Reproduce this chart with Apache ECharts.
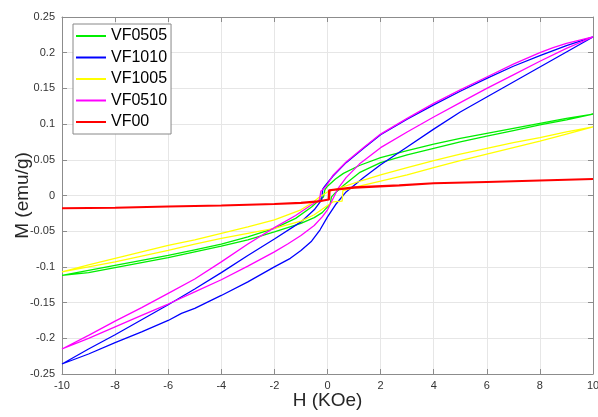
<!DOCTYPE html>
<html>
<head>
<meta charset="utf-8">
<script src="https://cdn.jsdelivr.net/npm/echarts@6/dist/echarts.min.js"></script>
<style>
html,body{margin:0;padding:0;background:#fff;}
#chart{width:598px;height:417px;}
</style>
</head>
<body>
<div id="chart"></div>
<script>
// Tick settings
const xTicks = [-10, -8, -6, -4, -2, 0, 2, 4, 6, 8, 10];
const yTicks = [-0.25, -0.2, -0.15, -0.1, -0.05, 0, 0.05, 0.1, 0.15, 0.2, 0.25];

const seriesNames = ['VF0505', 'VF1010', 'VF1005', 'VF0510', 'VF00'];
const seriesColors = ['#00ee00', '#0000ff', '#ffff00', '#ff00ff', '#ff0000'];

// [H (KOe), M (emu/g)] — descending branch (from +10 to -10)
const vf0505Desc = [[10,0.114],[9,0.108],[8,0.101],[7,0.094],[6,0.087],[5,0.080],[4,0.072],[3,0.063],[2,0.053],[1.2,0.042],[0.6,0.031],[0.3,0.023],[0,0.013],[-0.1,0.008],[-0.15,-0.002],[-0.3,-0.006],[-0.6,-0.016],[-1.2,-0.032],[-2,-0.046],[-3,-0.058],[-4,-0.068],[-5,-0.076],[-6,-0.084],[-7,-0.091],[-8,-0.098],[-9,-0.105],[-10,-0.112]];
// ascending branch (from -10 to +10)
const vf0505Asc = [[-10,-0.112],[-9,-0.108],[-8,-0.101],[-7,-0.094],[-6,-0.087],[-5,-0.079],[-4,-0.071],[-3,-0.062],[-2,-0.051],[-1.5,-0.045],[-1,-0.039],[-0.5,-0.031],[-0.2,-0.024],[0,-0.016],[0.1,-0.012],[0.15,-0.002],[0.3,0.004],[0.6,0.014],[1.2,0.032],[2,0.046],[3,0.057],[4,0.066],[5,0.075],[6,0.083],[7,0.091],[8,0.099],[9,0.106],[10,0.114]];

const vf1010Desc = [[10,0.222],[9,0.210],[8,0.196],[7,0.181],[6,0.164],[5,0.146],[4,0.127],[3,0.107],[2,0.085],[1.35,0.066],[0.7,0.046],[0.2,0.027],[-0.1,0.013],[-0.18,0.009],[-0.22,-0.006],[-0.5,-0.020],[-1,-0.037],[-2,-0.061],[-3,-0.084],[-4,-0.108],[-5,-0.131],[-6,-0.153],[-7,-0.174],[-8,-0.195],[-9,-0.215],[-10,-0.236]];
const vf1010Asc = [[-10,-0.236],[-9,-0.222],[-8,-0.206],[-7,-0.191],[-6,-0.175],[-5.5,-0.165],[-5,-0.158],[-4,-0.140],[-3,-0.121],[-2,-0.100],[-1.4,-0.088],[-1,-0.077],[-0.6,-0.064],[-0.28,-0.048],[0,-0.030],[0.3,-0.013],[0.7,0.005],[1.35,0.025],[2,0.043],[3,0.068],[4,0.093],[5,0.117],[6,0.138],[7,0.159],[8,0.180],[9,0.201],[10,0.222]];

const vf1005Desc = [[10,0.096],[9,0.089],[8,0.081],[7,0.074],[6,0.066],[5,0.058],[4,0.049],[3,0.039],[2,0.029],[1.3,0.021],[0.5,0.011],[0,0.005],[-0.3,-0.002],[-0.5,-0.008],[-0.7,-0.013],[-1,-0.020],[-2,-0.034],[-3,-0.044],[-4,-0.053],[-5,-0.062],[-6,-0.070],[-7,-0.079],[-8,-0.088],[-9,-0.097],[-10,-0.107]];
const vf1005Asc = [[-10,-0.107],[-9,-0.100],[-8,-0.093],[-7,-0.085],[-6,-0.077],[-5,-0.068],[-4,-0.060],[-3,-0.053],[-2,-0.046],[-1,-0.036],[-0.5,-0.027],[0,-0.014],[0.2,-0.009],[0.55,-0.008],[0.58,0.007],[1.2,0.013],[2,0.020],[3,0.029],[4,0.039],[5,0.049],[6,0.058],[7,0.067],[8,0.076],[9,0.086],[10,0.096]];

const vf0510Desc = [[10,0.222],[9,0.213],[8.5,0.207],[8,0.200],[7,0.184],[6,0.166],[5,0.148],[4,0.129],[3,0.108],[2,0.086],[1.35,0.067],[0.7,0.047],[0.2,0.028],[0,0.016],[-0.15,0.009],[-0.25,0.006],[-0.3,-0.006],[-0.6,-0.013],[-1.2,-0.028],[-2,-0.045],[-3,-0.068],[-4,-0.093],[-5,-0.117],[-6,-0.137],[-7,-0.157],[-8,-0.176],[-9,-0.196],[-10,-0.215]];
const vf0510Asc = [[-10,-0.215],[-9,-0.200],[-8,-0.184],[-7,-0.168],[-6,-0.152],[-5,-0.135],[-4,-0.118],[-3,-0.099],[-2,-0.079],[-1.5,-0.068],[-1,-0.056],[-0.5,-0.042],[-0.2,-0.030],[0,-0.020],[0.2,-0.005],[0.4,0.010],[0.7,0.025],[1.2,0.044],[2,0.067],[3,0.089],[4,0.110],[5,0.130],[6,0.150],[7,0.169],[8,0.188],[9,0.206],[10,0.222]];

const vf00Desc = [[10,0.023],[8,0.021],[6,0.019],[4,0.017],[2.7,0.014],[1,0.011],[0.08,0.0075],[0.06,-0.0056],[-0.34,-0.008],[-1,-0.010],[-2,-0.012],[-4,-0.014],[-6,-0.0155],[-8,-0.017],[-10,-0.018]];
const vf00Asc = [[-10,-0.018],[-8,-0.017],[-6,-0.0155],[-4,-0.014],[-2,-0.012],[-1,-0.0105],[-0.34,-0.0085],[0.04,-0.0056],[0.06,0.0075],[1,0.0115],[2.7,0.0145],[4,0.017],[6,0.019],[8,0.021],[10,0.023]];

const loops = [
  vf0505Desc.concat(vf0505Asc),
  vf1010Desc.concat(vf1010Asc),
  vf1005Desc.concat(vf1005Asc),
  vf0510Desc.concat(vf0510Asc),
  vf00Desc.concat(vf00Asc)
];
const lineWidths = [1.3, 1.3, 1.3, 1.3, 2];

const chart = echarts.init(document.getElementById('chart'), null, {renderer: 'canvas'});
const FONT = '"Liberation Sans", Arial, sans-serif';
const axisGray = '#8c8c8c';

const baseX = {
  type: 'value', min: xTicks[0], max: xTicks[xTicks.length - 1], interval: 2,
  axisLine: {show: true, onZero: false, lineStyle: {color: axisGray, width: 1}},
  axisTick: {show: true, inside: true, length: 5, lineStyle: {color: axisGray}},
};
const baseY = {
  type: 'value', min: yTicks[0], max: yTicks[yTicks.length - 1], interval: 0.05,
  axisLine: {show: true, onZero: false, lineStyle: {color: axisGray, width: 1}},
  axisTick: {show: true, inside: true, length: 5, lineStyle: {color: axisGray}},
};

chart.setOption({
  animation: false,
  backgroundColor: '#ffffff',
  grid: {left: 62, right: 5, top: 17, bottom: 43, containLabel: false, outerBoundsMode: 'none'},
  legend: {
    orient: 'vertical', left: 73, top: 24,
    data: seriesNames,
    icon: 'rect', itemWidth: 30, itemHeight: 2, itemGap: 5.5,
    padding: [4, 4, 4, 3],
    backgroundColor: '#ffffff', borderColor: '#888888', borderWidth: 1,
    textStyle: {fontFamily: FONT, fontSize: 16, color: '#000000'}
  },
  xAxis: [
    Object.assign({}, baseX, {
      position: 'bottom',
      name: 'H (KOe)', nameLocation: 'middle', nameGap: 17, nameMoveOverlap: false,
      nameTextStyle: {fontFamily: FONT, fontSize: 19, color: '#262626'},
      axisLabel: {fontFamily: FONT, fontSize: 11, color: '#333333', margin: 6},
      splitLine: {show: true, lineStyle: {color: '#e6e6e6', width: 1}}
    }),
    Object.assign({}, baseX, {
      position: 'top', axisLabel: {show: false}, splitLine: {show: false}
    })
  ],
  yAxis: [
    Object.assign({}, baseY, {
      position: 'left',
      name: 'M (emu/g)', nameLocation: 'middle', nameGap: 30, nameRotate: 90, nameMoveOverlap: false,
      nameTextStyle: {fontFamily: FONT, fontSize: 19, color: '#262626'},
      axisLabel: {fontFamily: FONT, fontSize: 11, color: '#333333', margin: 7},
      splitLine: {show: true, lineStyle: {color: '#e6e6e6', width: 1}}
    }),
    Object.assign({}, baseY, {
      position: 'right', axisLabel: {show: false}, splitLine: {show: false}
    })
  ],
  series: seriesNames.map((name, i) => ({
    name: name,
    type: 'line',
    xAxisIndex: 0, yAxisIndex: 0,
    data: loops[i],
    showSymbol: false,
    symbol: 'none',
    smooth: false,
    color: seriesColors[i],
    lineStyle: {color: seriesColors[i], width: lineWidths[i]},
    z: 2 + i
  }))
});
</script>
</body>
</html>
